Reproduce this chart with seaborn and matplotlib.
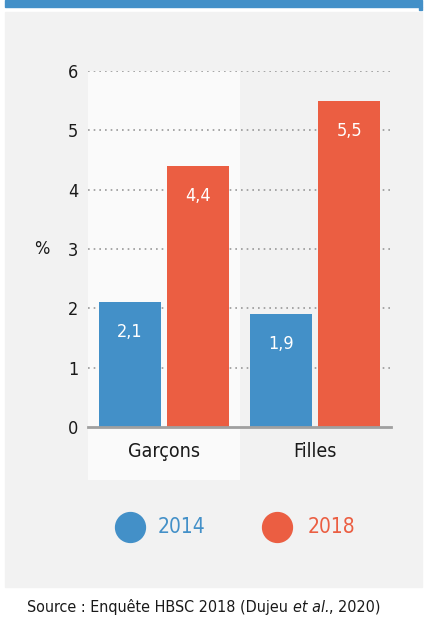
import matplotlib
matplotlib.use("Agg")
import matplotlib.pyplot as plt
from matplotlib.patches import Rectangle
from matplotlib.lines import Line2D
import seaborn as sns
import pandas as pd

# data
groups = ["Garçons", "Filles"]
years = ["2014", "2018"]
val_2014 = [2.1, 1.9]
val_2018 = [4.4, 5.5]
yticks = [0, 1, 2, 3, 4, 5, 6]

blue = "#4390C8"
red = "#EB5E42"
palette = {"2014": blue, "2018": red}

df = pd.DataFrame({
    "groupe": groups * 2,
    "annee": [years[0]] * 2 + [years[1]] * 2,
    "valeur": val_2014 + val_2018,
})

sns.set_theme(style="white")
plt.rcParams["font.family"] = ["DejaVu Sans"]
plt.rcParams["font.stretch"] = "condensed"

W, H = 425, 621
fig = plt.figure(figsize=(W / 100, H / 100), dpi=100)
fig.patch.set_facecolor("white")

def fy(y):
    return 1 - y / H

# background blocks
fig.add_artist(Rectangle((5 / W, fy(7)), 417 / W, 7 / H, transform=fig.transFigure,
                         color=blue, zorder=0))
fig.add_artist(Rectangle((419 / W, fy(10)), 3 / W, 3 / H, transform=fig.transFigure,
                         color=blue, zorder=0))
fig.add_artist(Rectangle((5 / W, fy(587)), 417 / W, 575 / H, transform=fig.transFigure,
                         color="#F2F2F2", zorder=0))

ax = fig.add_axes([88 / W, fy(427), 303 / W, 356 / H])
ax.patch.set_alpha(0)

# highlight band for first group
ax.axvspan(-0.5, 0.5, ymin=-53 / 356, ymax=1, color="#FAFAFA", zorder=0, clip_on=False,
           lw=0)

sns.barplot(data=df, x="groupe", y="valeur", hue="annee", order=groups, hue_order=years,
            palette=palette, width=0.9, gap=0.09, saturation=1, ax=ax, legend=False,
            zorder=3, linewidth=0, edgecolor="none")

ax.set_xlim(-0.5, 1.5)
ax.set_ylim(0, 6)
ax.set_yticks(yticks)
ax.set_yticklabels([str(t) for t in yticks], fontsize=13, color="#1a1a1a")
ax.tick_params(axis="y", length=0, pad=7)
ax.tick_params(axis="x", length=0, pad=11, labelsize=14, labelcolor="#1a1a1a")
ax.set_xlabel("")
ax.set_ylabel("%", rotation=0, fontsize=13, color="#1a1a1a", va="center", ha="center")
ax.yaxis.set_label_coords(-46 / 303, 0.5)

for t in yticks[1:]:
    ax.axhline(t, color="#999999", lw=1.2, ls=(0, (1, 2.4)), zorder=1)

for s in ["top", "right", "left"]:
    ax.spines[s].set_visible(False)
ax.spines["bottom"].set_color("#A0A0A0")
ax.spines["bottom"].set_linewidth(2)
ax.spines["bottom"].set_zorder(4)

for cont in ax.containers:
    labels = [f"{b.get_height():.1f}".replace(".", ",") for b in cont]
    ax.bar_label(cont, labels=labels, padding=-28, color="white", fontsize=13)

# legend
for x_c, x_t, yr, col in [(130, 158, years[0], blue), (277, 308, years[1], red)]:
    fig.add_artist(Line2D([x_c / W], [fy(527)], marker="o", markersize=21.5, color=col,
                          transform=fig.transFigure, lw=0))
    fig.text(x_t / W, fy(527), yr, color=col, fontsize=15, va="center", ha="left")

# source line with italic part
renderer = fig.canvas.get_renderer()
parts = [("Source : Enquête HBSC 2018 (Dujeu ", "normal"), ("et al.", "italic"), (", 2020)", "normal")]
texts = []
x = 0
for s, st in parts:
    t = fig.text(x, fy(607), s, fontsize=11.5, style=st, va="center", ha="left", color="#1a1a1a")
    bb = t.get_window_extent(renderer)
    texts.append((t, bb.width))
    x += bb.width / W
total = x
x = 204 / W - total / 2
for t, w in texts:
    t.set_x(x)
    x += w / W

fig.savefig("out.png", dpi=100)
